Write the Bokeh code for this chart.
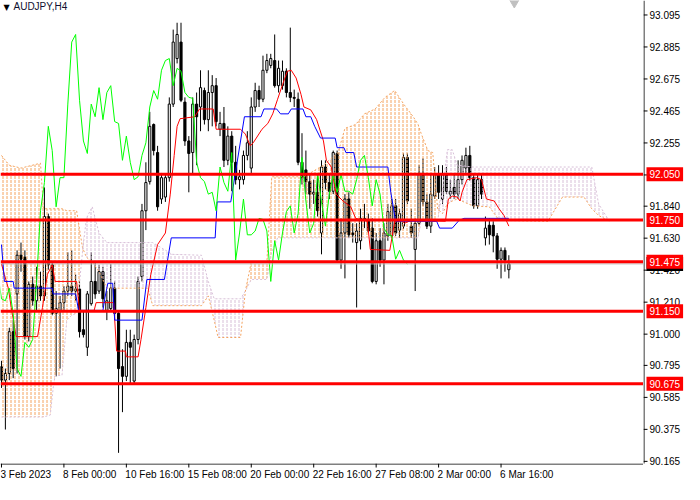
import numpy as np
from bokeh.plotting import figure
from bokeh.layouts import column, row
from bokeh.models import Label, Span
from bokeh.core.properties import value
from bokeh.embed import file_html
from bokeh.resources import INLINE

# AUDJPY H4 candles, oldest first (one bar per 4 hours)
open_ = [90.787, 90.698, 90.742, 91.016, 91.264, 91.518, 91.505, 90.984, 91.327, 91.219,
         91.315, 91.251, 91.772, 91.455, 91.137, 91.156, 91.207, 91.283, 91.315, 91.283,
         91.296, 91.029, 90.914, 91.200, 91.346, 91.283, 91.410, 91.156, 91.168, 91.302,
         91.137, 90.787, 90.723, 90.946, 90.692, 90.965, 91.378, 91.810, 92.001, 92.376,
         92.192, 91.887, 91.900, 92.027, 92.510, 92.809, 92.917, 92.523, 92.268, 92.192,
         92.510, 92.491, 92.599, 92.408, 92.586, 92.631, 92.345, 92.383, 92.141, 92.300,
         92.128, 92.014, 92.014, 92.173, 92.090, 92.491, 92.599, 92.542, 92.732, 92.764,
         92.796, 92.631, 92.631, 92.726, 92.586, 92.554, 92.542, 92.128, 92.078, 92.001,
         91.919, 91.931, 91.664, 92.097, 91.995, 91.938, 92.186, 91.486, 91.664, 91.887,
         91.664, 91.601, 91.613, 91.760, 91.753, 91.696, 91.346, 91.613, 91.486, 91.645,
         91.645, 91.842, 91.683, 91.709, 92.160, 91.709, 91.556, 91.728, 92.058, 91.868,
         91.709, 91.906, 92.046, 91.887, 92.046, 91.919, 91.963, 91.919, 92.014, 92.090,
         92.173, 92.027, 91.842, 92.014, 91.632, 91.715, 91.715, 91.645, 91.492, 91.550,
         91.423]
high = [90.825, 90.774, 91.042, 91.092, 91.550, 91.601, 91.550, 91.346, 91.378, 91.442,
        91.410, 91.963, 91.791, 91.474, 91.283, 91.251, 91.315, 91.537, 91.550, 91.391,
        91.346, 91.156, 91.283, 91.537, 91.474, 91.455, 91.442, 91.283, 91.461, 91.346,
        91.156, 90.901, 91.029, 91.029, 90.997, 91.378, 91.855, 92.128, 92.459, 92.383,
        92.236, 92.058, 92.046, 92.554, 92.999, 93.044, 93.044, 92.554, 92.300, 92.554,
        92.586, 92.732, 92.618, 92.732, 92.700, 92.681, 92.459, 92.491, 92.364, 92.332,
        92.236, 92.078, 92.205, 92.332, 92.554, 92.650, 92.631, 92.828, 92.840, 92.840,
        92.967, 92.796, 92.796, 92.745, 93.012, 92.605, 92.586, 92.319, 92.205, 92.046,
        92.014, 92.046, 92.141, 92.141, 92.046, 92.205, 92.205, 91.760, 91.919, 91.931,
        91.728, 91.728, 91.823, 91.855, 91.791, 91.760, 91.664, 91.696, 91.728, 91.855,
        91.887, 91.887, 91.823, 92.186, 92.186, 91.823, 91.760, 92.109, 92.154, 91.919,
        92.046, 92.097, 92.109, 92.109, 92.097, 92.014, 92.046, 92.141, 92.173, 92.224,
        92.236, 92.046, 92.046, 92.046, 91.772, 91.760, 91.741, 91.664, 91.569, 91.569,
        91.518]
low = [90.647, 90.374, 90.698, 90.711, 90.742, 91.410, 90.965, 90.952, 91.187, 91.156,
       91.219, 91.219, 91.423, 91.124, 90.723, 90.774, 91.156, 91.251, 91.251, 91.219,
       90.978, 90.978, 90.857, 91.187, 91.232, 91.264, 91.175, 91.092, 91.156, 91.092,
       90.221, 90.488, 90.692, 90.679, 90.679, 90.933, 91.346, 91.683, 91.982, 92.173,
       91.810, 91.855, 91.868, 92.001, 92.491, 92.777, 92.523, 92.236, 91.931, 92.046,
       92.109, 92.332, 92.376, 92.332, 92.364, 92.364, 92.300, 92.097, 92.109, 91.938,
       91.982, 91.950, 91.982, 92.141, 92.058, 92.459, 92.491, 92.523, 92.713, 92.745,
       92.618, 92.586, 92.605, 92.554, 92.523, 92.491, 92.109, 91.982, 91.919, 91.823,
       91.855, 91.772, 91.524, 91.950, 91.887, 91.919, 91.474, 91.429, 91.366, 91.632,
       91.601, 91.175, 91.556, 91.696, 91.664, 91.334, 91.327, 91.442, 91.327, 91.613,
       91.632, 91.645, 91.632, 91.690, 91.855, 91.632, 91.283, 91.715, 91.842, 91.690,
       91.664, 91.887, 91.887, 91.855, 91.919, 91.887, 91.887, 91.887, 91.982, 92.058,
       92.008, 91.823, 91.823, 91.887, 91.582, 91.588, 91.537, 91.429, 91.366, 91.410,
       91.366]
close = [90.698, 90.742, 91.016, 90.774, 91.518, 91.492, 90.984, 91.327, 91.219, 91.315,
         91.251, 91.772, 91.455, 91.137, 91.168, 91.207, 91.283, 91.315, 91.283, 91.296,
         91.016, 90.997, 91.264, 91.346, 91.264, 91.410, 91.232, 91.219, 91.302, 91.137,
         90.774, 90.723, 90.946, 90.914, 90.965, 91.346, 91.810, 91.995, 92.364, 92.205,
         91.836, 92.027, 92.027, 92.510, 92.917, 92.967, 92.535, 92.268, 92.186, 92.510,
         92.427, 92.618, 92.408, 92.586, 92.631, 92.395, 92.383, 92.141, 92.300, 92.128,
         92.014, 92.033, 92.173, 92.256, 92.491, 92.599, 92.542, 92.732, 92.796, 92.809,
         92.631, 92.745, 92.726, 92.586, 92.554, 92.548, 92.128, 92.027, 92.001, 91.919,
         91.931, 91.810, 92.097, 91.995, 91.938, 92.192, 91.486, 91.664, 91.887, 91.652,
         91.652, 91.677, 91.760, 91.753, 91.677, 91.346, 91.613, 91.486, 91.664, 91.804,
         91.842, 91.664, 91.791, 92.160, 91.874, 91.664, 91.728, 92.058, 91.868, 91.709,
         91.919, 92.046, 91.931, 92.046, 91.938, 91.938, 91.919, 92.014, 92.141, 92.173,
         92.027, 91.842, 92.014, 91.919, 91.696, 91.652, 91.645, 91.492, 91.550, 91.486,
         91.461]

# Ichimoku lines (bar position, price)
tenkan_bar = [0, 0.75, 1.75, 2.5, 3.75, 9.25, 10.5, 11.75, 13, 13.75,
              19.25, 20, 23.75, 24.25, 28.75, 29.5, 31.75, 32, 35, 35.75,
              37, 38.25, 40, 42, 43.25, 44.25, 45, 45.75, 49.5, 50.75,
              54.25, 55, 61.25, 62.5, 63.75, 64.5, 66.75, 68.25, 69.5, 70.75,
              72, 73.25, 74.25, 75.5, 76.75, 77.5, 79.25, 80.75, 82.5, 83.25,
              84.5, 85.75, 87.5, 89.5, 90.75, 93.75, 94.5, 99.5, 100.75, 102.5,
              103.25, 105, 113.75, 114.5, 115.5, 116.75, 117.5, 118, 119.25, 121.75,
              123, 124.25, 126.25, 127.5, 128.75, 130]
tenkan = [91.461, 91.391, 91.302, 91.175, 90.984, 90.984, 91.175, 91.391, 91.455, 91.346,
          91.346, 91.156, 91.156, 91.207, 91.207, 90.889, 90.889, 90.851, 90.851, 90.965,
          91.175, 91.391, 91.588, 91.664, 91.919, 92.173, 92.364, 92.414, 92.427, 92.478,
          92.478, 92.345, 92.345, 92.313, 92.236, 92.256, 92.345, 92.383, 92.446, 92.542,
          92.637, 92.726, 92.732, 92.681, 92.573, 92.491, 92.472, 92.408, 92.268, 92.141,
          92.097, 91.919, 91.874, 91.836, 91.760, 91.741, 91.556, 91.550, 91.741, 91.747,
          91.728, 91.747, 91.741, 91.887, 91.906, 91.900, 91.874, 91.931, 92.014, 92.027,
          92.014, 91.887, 91.874, 91.823, 91.779, 91.709]

kijun_bar = [0, 0.75, 3, 3.25, 13, 13.25, 19, 19.75, 26, 26.5,
             27.25, 28.5, 29, 36, 37.25, 41.75, 43.5, 54.75, 55.25, 58.75,
             62.25, 66.5, 67.25, 70.5, 71.5, 73.5, 74.25, 77.25, 78, 79.25,
             80.25, 81.75, 85.5, 86, 87.75, 88.25, 90.25, 91, 99, 99.75,
             101, 111.5, 112.25, 115.5, 117.25, 118.5, 130]
kijun = [91.588, 91.346, 91.346, 91.302, 91.302, 91.264, 91.264, 91.156, 91.156, 91.238,
         91.334, 91.334, 91.092, 91.092, 91.359, 91.359, 91.632, 91.632, 91.868, 91.868,
         92.427, 92.427, 92.478, 92.478, 92.446, 92.446, 92.478, 92.478, 92.427, 92.427,
         92.364, 92.287, 92.287, 92.224, 92.224, 92.192, 92.192, 92.097, 92.097, 91.931,
         91.741, 91.741, 91.696, 91.696, 91.747, 91.760, 91.760]

# cloud (Senkou span A / B), already shifted 26 bars ahead
cloud_bar = [0, 2, 5, 10, 10.75, 12.5, 13.25, 13.75, 15.5, 16.75,
             18, 19.25, 20.75, 21.75, 23.25, 25, 27, 37.5, 38.75, 43.75,
             51.25, 53, 54.5, 55.5, 61.25, 62.5, 64, 68, 69.25, 70.75,
             77.5, 82.5, 86.25, 88, 90.75, 93, 95.75, 98.25, 100.75, 103.25,
             105.5, 106.75, 107.5, 109.25, 110.5, 111.75, 113, 114.25, 115.5, 116.75,
             120.75, 125, 127.5, 140, 143.75, 149.25, 151.25, 153, 155.75]
span_a = [92.173, 92.109, 92.090, 92.122, 91.823, 91.823, 91.823, 91.823, 91.823, 91.810,
          91.810, 91.810, 91.569, 91.505, 91.474, 91.410, 91.302, 91.302, 91.187, 91.187,
          91.187, 91.251, 91.092, 90.978, 90.978, 91.283, 91.474, 91.474, 92.033, 92.033,
          92.033, 92.109, 92.192, 92.351, 92.376, 92.446, 92.478, 92.554, 92.599, 92.503,
          92.427, 92.376, 92.319, 92.205, 92.192, 91.823, 91.791, 91.855, 91.874, 91.887,
          91.842, 91.836, 91.747, 91.741, 91.900, 91.900, 91.823, 91.779, 91.741]
span_b = [90.456, 90.456, 90.456, 90.456, 90.456, 90.469, 90.647, 90.729, 90.729, 91.092,
          91.124, 91.137, 91.537, 91.760, 91.836, 91.664, 91.601, 91.601, 91.601, 91.524,
          91.518, 91.346, 91.232, 91.232, 91.232, 91.283, 91.359, 91.359, 91.537, 91.632,
          91.632, 91.632, 91.632, 91.632, 91.632, 91.632, 91.632, 91.632, 91.632, 91.632,
          91.632, 91.632, 91.741, 91.741, 91.741, 91.741, 91.950, 92.211, 92.211, 92.109,
          92.097, 92.097, 92.097, 92.097, 92.097, 92.097, 92.097, 91.855, 91.741]

levels = [92.050, 91.750, 91.475, 91.150, 90.675]

price_ticks = [93.095, 92.885, 92.675, 92.465, 92.255, 92.045, 91.840, 91.630,
               91.420, 91.210, 91.000, 90.795, 90.585, 90.375, 90.165]
time_ticks = [0, 16, 32, 48, 64, 80, 96, 112, 128]
time_labels = ["3 Feb 2023", "8 Feb 00:00", "10 Feb 16:00", "15 Feb 08:00", "20 Feb 00:00",
               "22 Feb 16:00", "27 Feb 08:00", "2 Mar 00:00", "6 Mar 16:00"]

FONT = "Liberation Sans"
X0, X1 = -0.25, 164.5
Y0, Y1 = 90.151, 93.19
MAIN_W, MAIN_H = 643, 463
AXIS_W, AXIS_H = 41, 21


def bare(fig):
    fig.outline_line_color = None
    fig.grid.visible = False
    fig.min_border = 0
    return fig


bars = np.arange(len(close))
o = np.array(open_)
c = np.array(close)
up = c >= o

p = bare(figure(width=MAIN_W, height=MAIN_H, x_range=(X0, X1), y_range=(Y0, Y1),
                output_backend="svg", toolbar_location=None, tools="",
                x_axis_location=None, y_axis_location=None))

# candles
p.segment(bars, high, bars, low, line_color="black", line_width=1)
p.vbar(x=bars[up], bottom=o[up], top=c[up], width=0.55,
       fill_color="white", line_color="black", line_width=1)
p.vbar(x=bars[~up], bottom=c[~up], top=o[~up], width=0.55,
       fill_color="black", line_color="black", line_width=1)

# cloud, hatched like MT4
sa = np.array(span_a)
sb = np.array(span_b)
top = np.maximum(sa, sb)
p.varea(x=cloud_bar, y1=sb, y2=top, fill_color=None, hatch_pattern="vertical_dash",
        hatch_color="#F4A460", hatch_scale=4, hatch_weight=1)
p.varea(x=cloud_bar, y1=sa, y2=top, fill_color=None, hatch_pattern="vertical_dash",
        hatch_color="#D8BFD8", hatch_scale=4, hatch_weight=1)
p.line(cloud_bar, span_a, line_color="#F4A460", line_dash="2 2", line_width=1)
p.line(cloud_bar, span_b, line_color="#D8BFD8", line_dash="2 2", line_width=1)

p.line(tenkan_bar, tenkan, line_color="#FF0000", line_width=1)
p.line(kijun_bar, kijun, line_color="#0000FF", line_width=1)
p.line(bars - 26, close, line_color="#00FF00", line_width=1)  # chikou

# MT4 shift marker at the top
p.scatter([131.4], [Y1], marker="inverted_triangle", size=13,
          fill_color="#C0C0C0", line_color="#C0C0C0")

# current price + levels
p.add_layout(Span(location=close[-1], dimension="width", line_color="#C0C0C0", line_width=1))
for lvl in levels:
    p.add_layout(Span(location=lvl, dimension="width", line_color="#FF0000", line_width=3))

p.add_layout(Label(x=X0, y=93.175, x_offset=3, text="\u25bc", text_color="black",
                   text_font="DejaVu Sans", text_font_size="8px", text_baseline="top"))
p.add_layout(Label(x=X0, y=93.185, x_offset=13, text="AUDJPY,H4", text_color="#101030",
                   text_font=FONT, text_font_size="10px", text_baseline="top"))

# price scale on the right: same price-per-pixel as the chart, but running down
# through the corner so the lowest label is not cut
r_y0 = Y1 - (Y1 - Y0) * (MAIN_H + AXIS_H) / MAIN_H
r = bare(figure(width=AXIS_W, height=MAIN_H + AXIS_H, x_range=(0, AXIS_W), y_range=(r_y0, Y1),
                output_backend="svg", toolbar_location=None, tools="",
                x_axis_location=None, y_axis_location=None))
r.segment(x0=0.5, y0=Y0, x1=0.5, y1=Y1, line_color="black", line_width=1)
r.segment(x0=0, y0=price_ticks, x1=4, y1=price_ticks, line_color="black", line_width=1)
r.text(x=6, y=price_ticks, text=[f"{v:.3f}" for v in price_ticks], text_color="black",
       text_font=value(FONT), text_font_size="10px", text_baseline="middle")
tag_vals = [close[-1]] + levels
tag_colors = ["black"] + ["#FF0000"] * len(levels)
for v, col in zip(tag_vals, tag_colors):
    r.add_layout(Label(x=3, y=v, text=f"{v:.3f}", text_color="white", text_font=FONT,
                       text_font_size="10px", text_baseline="middle",
                       background_fill_color=col, padding=3))

# time scale below (x shares the chart's bar range, y in pixels)
b = bare(figure(width=MAIN_W, height=AXIS_H, x_range=p.x_range, y_range=(0, AXIS_H),
                output_backend="svg", toolbar_location=None, tools="",
                x_axis_location=None, y_axis_location=None))
b.add_layout(Span(location=AXIS_H - 0.5, dimension="width", line_color="black", line_width=1))
b.segment(x0=time_ticks, y0=AXIS_H, x1=time_ticks, y1=AXIS_H - 4,
          line_color="black", line_width=1)
b.text(x=time_ticks, y=AXIS_H - 5, text=time_labels, x_offset=-1, text_color="black",
       text_font=value(FONT), text_font_size="10px", text_align="left", text_baseline="top")

layout = row(column(p, b), r)
open("out.html", "w").write(file_html(layout, INLINE))
